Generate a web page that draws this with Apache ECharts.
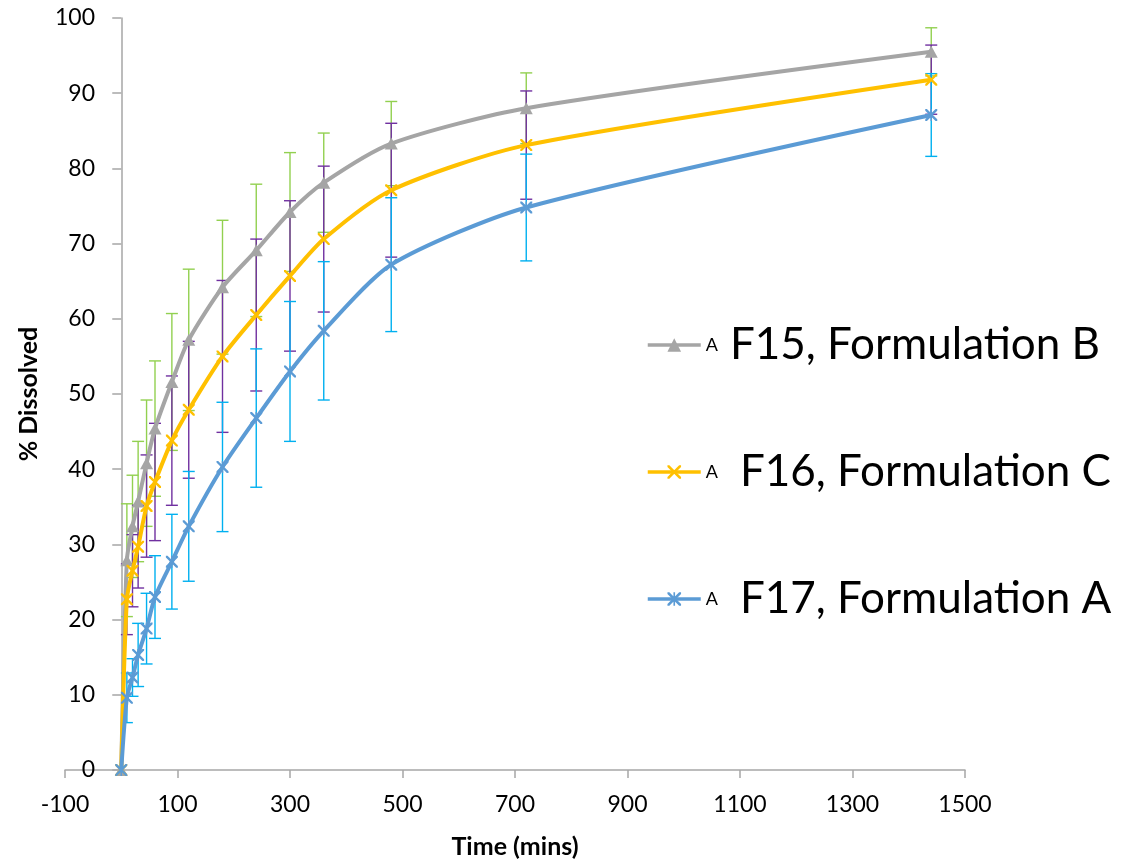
<!DOCTYPE html>
<html>
<head>
<meta charset="utf-8">
<script src="https://cdn.jsdelivr.net/npm/echarts@6/dist/echarts.min.js"></script>
<style>
  html, body { margin: 0; padding: 0; background: #fff; }
  #chart { width: 1124px; height: 863px; }
</style>
</head>
<body>
<div id="chart"></div>
<script>
// sampling times (mins)
const times = [0, 10, 20, 30, 45, 60, 90, 120, 180, 240, 300, 360, 480, 720, 1440];
// % dissolved
const f15 = [0, 27.9, 32.4, 35.7, 40.8, 45.4, 51.6, 57.2, 64.2, 69.1, 74.2, 78.1, 83.3, 88.0, 95.5];
const f16 = [0, 22.7, 26.5, 29.7, 35.1, 38.3, 43.8, 47.9, 55.0, 60.5, 65.7, 70.6, 77.1, 83.1, 91.8];
const f17 = [0, 9.6, 12.3, 15.3, 18.8, 23.0, 27.7, 32.4, 40.3, 46.8, 53.0, 58.4, 67.2, 74.8, 87.1];
// error bar half-lengths
const f15Err = [0, 7.5, 6.8, 8.0, 8.4, 9.0, 9.1, 9.4, 8.9, 8.8, 7.9, 6.6, 5.6, 4.7, 3.2];
const f16Err = [0, 4.7, 4.8, 5.5, 6.8, 7.8, 8.6, 9.1, 10.1, 10.1, 10.0, 9.7, 8.9, 7.2, 4.6];
const f17Err = [0, 3.3, 2.5, 4.2, 4.7, 5.5, 6.3, 7.3, 8.6, 9.2, 9.3, 9.2, 8.9, 7.1, 5.5];
// x tick labels
const xTicks = [-100, 100, 300, 500, 700, 900, 1100, 1300, 1500];

const names = ['F15, Formulation B', 'F16, Formulation C', 'F17, Formulation A'];

const xSymbol = 'path://M0,0L1.4,0L10,8.6L10,10L8.6,10L0,1.4Z M8.6,0L10,0L10,1.4L1.4,10L0,10L0,8.6Z';
const starSymbol = xSymbol + ' M4.4,0L5.6,0L5.6,10L4.4,10Z';

const chart = echarts.init(document.getElementById('chart'));

const pairs = (vals) => times.map((t, i) => [t, vals[i]]);
const triples = (vals, errs) => times.map((t, i) => [t, vals[i], errs[i]]);

// error bars drawn with the axis scales
const errorBars = (color) => (params, api) => {
  const x = api.value(0);
  const y = api.value(1);
  const e = api.value(2);
  if (!e) return;
  const top = api.coord([x, y + e]);
  const bot = api.coord([x, y - e]);
  const hw = 6;
  const style = { stroke: color, lineWidth: 1.4 };
  return {
    type: 'group',
    children: [
      { type: 'line', shape: { x1: top[0], y1: top[1], x2: bot[0], y2: bot[1] }, style },
      { type: 'line', shape: { x1: top[0] - hw, y1: top[1], x2: top[0] + hw, y2: top[1] }, style },
      { type: 'line', shape: { x1: bot[0] - hw, y1: bot[1], x2: bot[0] + hw, y2: bot[1] }, style }
    ]
  };
};

const axisGray = '#a6a6a6';
const font = 'Lato, "Open Sans", sans-serif';

const legendRow = (name, top, gap) => ({
  data: [name],
  left: 646,
  top: top,
  orient: 'vertical',
  padding: 0,
  itemWidth: 53,
  itemHeight: 17,
  lineStyle: { width: 3.5 },
  formatter: (n) => '{s|A}{b|' + n + '}',
  textStyle: {
    rich: {
      s: { fontSize: 18, fontFamily: font, color: '#000' },
      b: { fontSize: 44, fontFamily: font, color: '#000', padding: [0, 0, 0, gap], lineHeight: 48 }
    }
  }
});

const option = {
  animation: false,
  backgroundColor: '#fff',
  grid: { left: 65, right: 159, top: 18, bottom: 93, outerBoundsMode: 'none', containLabel: false },
  legend: [
    legendRow(names[0], 323, 12),
    legendRow(names[1], 450, 22),
    legendRow(names[2], 577, 22)
  ],
  xAxis: {
    type: 'value',
    min: -100,
    max: 1500,
    name: 'Time (mins)',
    nameLocation: 'middle',
    nameGap: 64,
    nameTextStyle: { fontSize: 25, fontWeight: 'bold', fontFamily: font, color: '#000' },
    axisLine: { lineStyle: { color: axisGray, width: 1.5 } },
    axisTick: { customValues: xTicks, length: 8, lineStyle: { color: axisGray, width: 1.5 } },
    axisLabel: {
      customValues: xTicks, fontSize: 23, fontFamily: font, color: '#000', margin: 23,
      formatter: (v) => String(v)
    },
    splitLine: { show: false }
  },
  yAxis: {
    type: 'value',
    min: 0,
    max: 100,
    interval: 10,
    name: '% Dissolved',
    nameLocation: 'middle',
    nameGap: 24,
    nameMoveOverlap: false,
    nameTextStyle: { fontSize: 25, fontWeight: 'bold', fontFamily: font, color: '#000' },
    axisLine: { show: true, onZero: true, lineStyle: { color: axisGray, width: 1.5 } },
    axisTick: { show: true, length: 9, lineStyle: { color: axisGray, width: 1.5 } },
    axisLabel: { fontSize: 23, fontFamily: font, color: '#000', margin: -30 },
    splitLine: { show: false }
  },
  series: [
    { type: 'custom', renderItem: errorBars('#92d050'), data: triples(f15, f15Err), z: 1, silent: true },
    { type: 'custom', renderItem: errorBars('#7030a0'), data: triples(f16, f16Err), z: 1, silent: true },
    { type: 'custom', renderItem: errorBars('#00b0f0'), data: triples(f17, f17Err), z: 1, silent: true },
    {
      name: names[0], type: 'line', data: pairs(f15), z: 2,
      smooth: 0.25,
      symbol: 'triangle', symbolSize: [13, 12],
      color: '#a5a5a5',
      lineStyle: { color: '#a5a5a5', width: 4 },
      itemStyle: { color: '#a5a5a5' }
    },
    {
      name: names[1], type: 'line', data: pairs(f16), z: 3,
      smooth: 0.25,
      symbol: xSymbol, symbolSize: 12,
      color: '#ffc000',
      lineStyle: { color: '#ffc000', width: 4 },
      itemStyle: { color: '#ffc000' }
    },
    {
      name: names[2], type: 'line', data: pairs(f17), z: 4,
      smooth: 0.25,
      symbol: starSymbol, symbolSize: 12,
      color: '#5b9bd5',
      lineStyle: { color: '#5b9bd5', width: 4 },
      itemStyle: { color: '#5b9bd5' }
    }
  ]
};

chart.setOption(option);
</script>
</body>
</html>
